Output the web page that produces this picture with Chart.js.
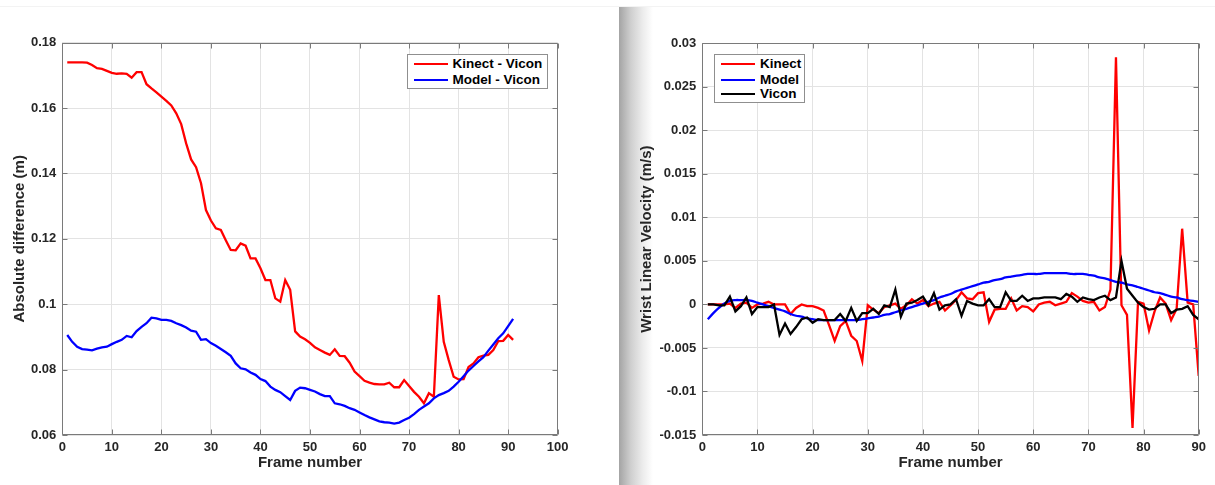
<!DOCTYPE html>
<html>
<head>
<meta charset="utf-8">
<script src="https://cdn.jsdelivr.net/npm/chart.js@4.4.1/dist/chart.umd.min.js"></script>
<style>
  html, body { margin: 0; padding: 0; background: #fff; }
  #wrap { position: relative; width: 1215px; height: 485px; overflow: hidden;
          font-family: "Liberation Sans", Arial, Helvetica, sans-serif; }
  #wrap canvas { position: absolute; top: 0; }
  #topline { position: absolute; left: 0; top: 6px; width: 1215px; height: 1px; background: #f3f3f3; }
  #shade { position: absolute; left: 619px; top: 7px; width: 34px; height: 478px;
           background: linear-gradient(to right, #a4a4a4, #cfcfcf 35%, #ececec 70%, #fff); }
  .legend { position: absolute; background: #fff; border: 1px solid #8f8f8f; box-sizing: border-box; }
  .legend .row { position: absolute; left: 0; height: 16px; line-height: 16px; white-space: nowrap;
                 font-weight: bold; font-size: 13.5px; color: #000; }
  .legend .swatch { position: absolute; top: 7px; height: 2px; }
  .legend .label { position: absolute; top: 0; }
</style>
</head>
<body>
<div id="wrap">
  <div id="topline"></div>
  <div id="shade"></div>
  <canvas id="leftChart" width="600" height="485" style="left:0"></canvas>
  <canvas id="rightChart" width="615" height="485" style="left:600px"></canvas>
  <div id="leftLegend" class="legend"></div>
  <div id="rightLegend" class="legend"></div>
</div>

<script>
// ---- left plot: absolute difference, frames 1..91 ----
const kinectMinusVicon = [
  0.1740, 0.1740, 0.1740, 0.1740, 0.1739, 0.1732, 0.1722, 0.1720, 0.1714, 0.1708,
  0.1705, 0.1706, 0.1705, 0.1693, 0.1710, 0.1710, 0.1673, 0.1660, 0.1648, 0.1635,
  0.1622, 0.1608, 0.1584, 0.1551, 0.1492, 0.1443, 0.1419, 0.1370, 0.1288, 0.1256,
  0.1232, 0.1227, 0.1196, 0.1166, 0.1165, 0.1186, 0.1179, 0.1140, 0.1140, 0.1110,
  0.1074, 0.1074, 0.1018, 0.1008, 0.1074, 0.1044, 0.0917, 0.0901, 0.0893, 0.0882,
  0.0868, 0.0860, 0.0852, 0.0845, 0.0862, 0.0842, 0.0841, 0.0821, 0.0794, 0.0780,
  0.0766, 0.0760, 0.0756, 0.0755, 0.0755, 0.0760, 0.0746, 0.0746, 0.0768, 0.0750,
  0.0732, 0.0717, 0.0697, 0.0728, 0.0717, 0.1028, 0.0885, 0.0829, 0.0778, 0.0770,
  0.0771, 0.0808, 0.0819, 0.0838, 0.0843, 0.0845, 0.0860, 0.0887, 0.0888, 0.0906,
  0.0891
];
const modelMinusVicon = [
  0.0906, 0.0885, 0.0870, 0.0863, 0.0861, 0.0859, 0.0864, 0.0868, 0.0870, 0.0878,
  0.0885, 0.0891, 0.0903, 0.0899, 0.0918, 0.0931, 0.0942, 0.0959, 0.0957, 0.0952,
  0.0952, 0.0949, 0.0942, 0.0936, 0.0929, 0.0919, 0.0916, 0.0891, 0.0893, 0.0881,
  0.0873, 0.0863, 0.0853, 0.0842, 0.0819, 0.0804, 0.0801, 0.0791, 0.0784, 0.0771,
  0.0765, 0.0748, 0.0738, 0.0731, 0.0719, 0.0707, 0.0735, 0.0745, 0.0743, 0.0738,
  0.0733, 0.0725, 0.0719, 0.0719, 0.0697, 0.0694, 0.0689, 0.0682, 0.0677, 0.0669,
  0.0661, 0.0654, 0.0648, 0.0642, 0.0639, 0.0638, 0.0635, 0.0638, 0.0646, 0.0653,
  0.0664, 0.0677, 0.0687, 0.0697, 0.0712, 0.0722, 0.0728, 0.0735, 0.0748, 0.0763,
  0.0780, 0.0797, 0.0811, 0.0825, 0.0838, 0.0858, 0.0877, 0.0896, 0.0911, 0.0933,
  0.0955
];
const leftXTicks = [0, 10, 20, 30, 40, 50, 60, 70, 80, 90, 100];
const leftYTicks = [0.06, 0.08, 0.1, 0.12, 0.14, 0.16, 0.18];

// ---- right plot: wrist linear velocity, frames 1..90 ----
const kinectVel = [
  0, 0, 0, 0, 0.0001, -0.0004, 0.0001, 0.0002, -0.0004, 0,
  0.0001, 0.0003, 0, 0, 0, -0.0011, -0.0004, 0, -0.0002, -0.0002,
  -0.0004, -0.0007, -0.0024, -0.0042, -0.0025, -0.0019, -0.0036, -0.0042, -0.0065, -0.0001,
  -0.0006, -0.0010, -0.0003, -0.0001, 0.0001, -0.0005, -0.0001, 0.0006, 0.0001, 0.0005,
  -0.0002, 0.0001, 0.0003, -0.0007, -0.0001, 0.0005, 0.0014, 0.0007, 0.0006, 0.0013,
  0.0014, -0.0020, -0.0006, -0.0005, -0.0005, 0.0007, -0.0007, -0.0002, -0.0003, -0.0008,
  0, 0.0002, 0.0003, -0.0001, 0.0001, 0.0003, 0.0013, 0.0009, 0.0004, 0.0002,
  0.0003, -0.0007, -0.0003, 0.0017, 0.0284, -0.0001, -0.0012, -0.0142, 0.0003, 0.0001,
  -0.0030, -0.0008, 0.0008, 0.0001, -0.0018, -0.0005, 0.0087, 0.0002, 0, -0.0082
];
const modelVel = [
  -0.0017, -0.0010, -0.0004, 0.0001, 0.0004, 0.0005, 0.0005, 0.0005, 0.0004, 0.0002,
  0, -0.0002, -0.0004, -0.0006, -0.0008, -0.0011, -0.0013, -0.0014, -0.0016, -0.0017,
  -0.0018, -0.0018, -0.0018, -0.0018, -0.0018, -0.0018, -0.0018, -0.0018, -0.0017, -0.0016,
  -0.0015, -0.0014, -0.0012, -0.0011, -0.0009, -0.0007, -0.0005, -0.0003, -0.0001, 0.0001,
  0.0003, 0.0005, 0.0008, 0.0010, 0.0012, 0.0015, 0.0017, 0.0019, 0.0021, 0.0023,
  0.0025, 0.0026, 0.0028, 0.0029, 0.0031, 0.0032, 0.0033, 0.0034, 0.0035, 0.0035,
  0.0035, 0.0036, 0.0036, 0.0036, 0.0036, 0.0036, 0.0035, 0.0035, 0.0035, 0.0034,
  0.0033, 0.0031, 0.0030, 0.0028, 0.0026, 0.0025, 0.0023, 0.0022, 0.0020, 0.0018,
  0.0016, 0.0014, 0.0013, 0.0011, 0.0009, 0.0008, 0.0006, 0.0005, 0.0004, 0.0003
];
const viconVel = [
  0, 0, -0.0001, -0.0001, 0.0009, -0.0008, -0.0002, 0.0008, -0.0011, -0.0003,
  -0.0003, -0.0003, 0, -0.0035, -0.0022, -0.0034, -0.0026, -0.0017, -0.0015, -0.0021,
  -0.0017, -0.0018, -0.0018, -0.0018, -0.0011, -0.0019, -0.0004, -0.0019, -0.0010, -0.0010,
  -0.0005, -0.0011, -0.0001, -0.0003, 0.0017, -0.0014, 0.0001, 0.0002, 0.0005, 0.0009,
  -0.0001, 0.0013, -0.0006, -0.0001, 0, 0.0006, -0.0013, 0.0004, 0.0001, -0.0001,
  -0.0001, 0.0006, -0.0003, -0.0003, 0.0014, 0.0004, 0.0004, 0.0010, 0.0004, 0.0007,
  0.0007, 0.0008, 0.0008, 0.0008, 0.0006, 0.0012, 0.0009, 0.0003, 0.0008, 0.0006,
  0.0005, 0.0008, 0.0010, 0.0005, 0.0008, 0.0050, 0.0018, 0.0010, 0.0002, -0.0003,
  -0.0006, -0.0005, 0, 0, -0.0010, -0.0006, -0.0005, -0.0002, -0.0012, -0.0017
];
const rightXTicks = [0, 10, 20, 30, 40, 50, 60, 70, 80, 90];
const rightYTicks = [-0.015, -0.01, -0.005, 0, 0.005, 0.01, 0.015, 0.02, 0.025, 0.03];

const FONT = '"Liberation Sans", Arial, Helvetica, sans-serif';
const TEXT = '#262626';
const AXIS = '#7a7a7a';
const GRID = '#e3e3e3';

const toPoints = vals => vals.map((v, i) => ({ x: i + 1, y: v }));

// matlab style box with inward ticks on all four sides
const boxPlugin = {
  id: 'box',
  afterDraw(chart) {
    const { ctx, chartArea: a, scales: { x, y } } = chart;
    const L = Math.round(a.left) + 0.5, R = Math.round(a.right) - 0.5;
    const T = Math.round(a.top) + 0.5, B = Math.round(a.bottom) - 0.5;
    ctx.save();
    ctx.strokeStyle = AXIS;
    ctx.lineWidth = 1;
    ctx.beginPath();
    ctx.rect(L, T, R - L, B - T);
    x.ticks.forEach(t => {
      const px = Math.round(x.getPixelForValue(t.value)) + 0.5;
      ctx.moveTo(px, B); ctx.lineTo(px, B - 5);
      ctx.moveTo(px, T); ctx.lineTo(px, T + 5);
    });
    y.ticks.forEach(t => {
      const py = Math.round(y.getPixelForValue(t.value)) + 0.5;
      ctx.moveTo(L, py); ctx.lineTo(L + 5, py);
      ctx.moveTo(R, py); ctx.lineTo(R - 5, py);
    });
    ctx.stroke();
    ctx.restore();
  }
};

function makeChart(id, cfg) {
  return new Chart(document.getElementById(id), {
    type: 'line',
    data: { datasets: cfg.datasets },
    plugins: [boxPlugin],
    options: {
      responsive: false,
      animation: false,
      devicePixelRatio: 1,
      layout: { padding: cfg.padding },
      elements: { point: { radius: 0 }, line: { borderWidth: 2.3, tension: 0 } },
      plugins: { legend: { display: false }, tooltip: { enabled: false } },
      scales: {
        x: {
          type: 'linear', min: cfg.xTicks[0], max: cfg.xTicks[cfg.xTicks.length - 1],
          afterBuildTicks: s => { s.ticks = cfg.xTicks.map(v => ({ value: v })); },
          afterFit: s => { s.height = 50; },
          grid: { color: GRID, drawTicks: false },
          border: { display: false },
          ticks: { padding: 5, color: TEXT, font: { family: FONT, size: 13, weight: 'bold' },
                   callback: v => String(v), maxRotation: 0 },
          title: { display: true, text: 'Frame number', color: TEXT,
                   font: { family: FONT, size: 15, weight: 'bold' }, padding: { top: 0, bottom: 13.5 } }
        },
        y: {
          min: cfg.yTicks[0], max: cfg.yTicks[cfg.yTicks.length - 1],
          afterBuildTicks: s => { s.ticks = cfg.yTicks.map(v => ({ value: v })); },
          afterFit: s => { s.width = cfg.yWidth; },
          grid: { color: GRID, drawTicks: false },
          border: { display: false },
          ticks: { padding: 6, color: TEXT, font: { family: FONT, size: 13, weight: 'bold' },
                   callback: v => String(v) },
          title: { display: true, text: cfg.yTitle, color: TEXT,
                   font: { family: FONT, size: 15, weight: 'bold' }, padding: { top: cfg.yTitlePad, bottom: 0 } }
        }
      }
    }
  });
}

const leftChart = makeChart('leftChart', {
  datasets: [
    { label: 'Kinect - Vicon', data: toPoints(kinectMinusVicon), borderColor: '#ff0000', order: 2 },
    { label: 'Model - Vicon', data: toPoints(modelMinusVicon), borderColor: '#0000ff', order: 1 }
  ],
  xTicks: leftXTicks, yTicks: leftYTicks,
  padding: { top: 42.7, right: 42.3, bottom: 0, left: 0 },
  yWidth: 62.3, yTitle: 'Absolute difference (m)', yTitlePad: 10.5
});

const rightChart = makeChart('rightChart', {
  datasets: [
    { label: 'Kinect', data: toPoints(kinectVel), borderColor: '#ff0000', order: 3 },
    { label: 'Model', data: toPoints(modelVel), borderColor: '#0000ff', order: 2, tension: 0.4 },
    { label: 'Vicon', data: toPoints(viconVel), borderColor: '#000000', order: 1 }
  ],
  xTicks: rightXTicks, yTicks: rightYTicks,
  padding: { top: 43.3, right: 16.3, bottom: 0, left: 0 },
  yWidth: 102.3, yTitle: 'Wrist Linear Velocity (m/s)', yTitlePad: 37.5
});

// html legend boxes built from the chart datasets
function buildLegend(chart, id, box) {
  const el = document.getElementById(id);
  Object.assign(el.style, { left: box.left + 'px', top: box.top + 'px',
                            width: box.width + 'px', height: box.height + 'px' });
  chart.data.datasets.forEach((ds, i) => {
    const row = document.createElement('div');
    row.className = 'row';
    row.style.top = Math.round(box.rows[i] - 8) + 'px';
    const sw = document.createElement('div');
    sw.className = 'swatch';
    Object.assign(sw.style, { left: box.lineX + 'px', width: box.lineW + 'px', background: ds.borderColor });
    const lab = document.createElement('span');
    lab.className = 'label';
    lab.style.left = box.textX + 'px';
    lab.textContent = ds.label;
    row.appendChild(sw);
    row.appendChild(lab);
    el.appendChild(row);
  });
}

buildLegend(leftChart, 'leftLegend',
  { left: 407, top: 54, width: 141, height: 35, rows: [9.3, 25], lineX: 6, lineW: 34, textX: 44.5 });
buildLegend(rightChart, 'rightLegend',
  { left: 714, top: 54, width: 91, height: 49, rows: [9.3, 24.7, 39.3], lineX: 6, lineW: 34, textX: 45 });
</script>
</body>
</html>
